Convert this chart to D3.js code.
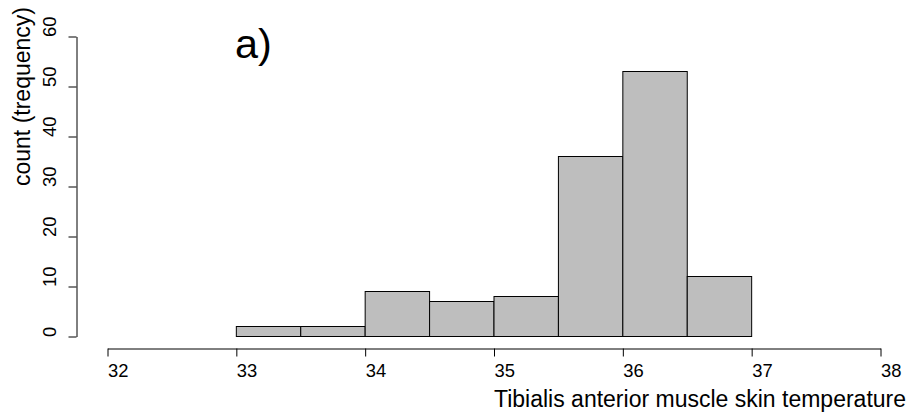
<!DOCTYPE html>
<html>
<head>
<meta charset="utf-8">
<script src="https://cdn.jsdelivr.net/npm/d3@7"></script>
<style>
  html, body { margin: 0; padding: 0; background: #fff; }
  svg { display: block; font-family: "Liberation Sans", Arial, sans-serif; }
</style>
</head>
<body>
<svg id="chart" width="917" height="418"></svg>
<script>
// Histogram bins (lower edge, upper edge) and counts
const binStart = [33.0, 33.5, 34.0, 34.5, 35.0, 35.5, 36.0, 36.5];
const binEnd   = [33.5, 34.0, 34.5, 35.0, 35.5, 36.0, 36.5, 37.0];
const counts   = [2, 2, 9, 7, 8, 36, 53, 12];

const xTicks = [32, 33, 34, 35, 36, 37, 38];
const yTicks = [0, 10, 20, 30, 40, 50, 60];

const xLabel = "Tibialis anterior muscle skin temperature";
const yLabel = "count (trequency)";
const panelTag = "a)";

const FONT = "'Liberation Sans', Arial, sans-serif";
const svg = d3.select("#chart");

const x = d3.scaleLinear().domain([32, 38]).range([107, 880]);
const y = d3.scaleLinear().domain([0, 60]).range([336, 36]);

const bins = binStart.map((s, i) => ({ x0: s, x1: binEnd[i], n: counts[i] }));

// bars
svg.append("g")
  .selectAll("rect")
  .data(bins)
  .join("rect")
  .attr("x", d => x(d.x0) + 0.5)
  .attr("y", d => y(d.n) + 0.5)
  .attr("width", d => x(d.x1) - x(d.x0))
  .attr("height", d => y(0) - y(d.n))
  .attr("fill", "#bebebe")
  .attr("stroke", "#000")
  .attr("stroke-width", 1);

// x axis: labels start at their tick
const gx = svg.append("g")
  .attr("transform", "translate(0.5,348.5)")
  .call(d3.axisBottom(x).tickValues(xTicks).tickFormat(d3.format("d"))
    .tickSize(8).tickSizeOuter(0));
gx.selectAll("line, path").attr("stroke", "#000");
gx.selectAll(".tick text")
  .attr("font-size", 18.4).attr("fill", "#000").attr("font-family", FONT)
  .attr("text-anchor", "start")
  .attr("x", 0).attr("y", 28.5).attr("dy", null);

// y axis: rotated labels reading upward from their tick
const gy = svg.append("g")
  .attr("transform", "translate(76.5,0.5)")
  .call(d3.axisLeft(y).tickValues(yTicks).tickFormat(d3.format("d"))
    .tickSize(8).tickSizeOuter(0));
gy.selectAll("line, path").attr("stroke", "#000");
gy.selectAll(".tick text")
  .attr("font-size", 18.4).attr("fill", "#000").attr("font-family", FONT)
  .attr("x", null).attr("dy", null)
  .attr("text-anchor", "start")
  .attr("transform", "translate(-20.5,0) rotate(-90)");

// axis titles
svg.append("text")
  .attr("x", 494).attr("y", 407)
  .attr("text-anchor", "start")
  .attr("font-size", 23)
  .text(xLabel);

svg.append("text")
  .attr("transform", "translate(30,186) rotate(-90)")
  .attr("text-anchor", "start")
  .attr("font-size", 23)
  .text(yLabel);

// panel tag
svg.append("text")
  .attr("x", 235).attr("y", 58)
  .attr("font-size", 41.4)
  .text(panelTag);
</script>
</body>
</html>
